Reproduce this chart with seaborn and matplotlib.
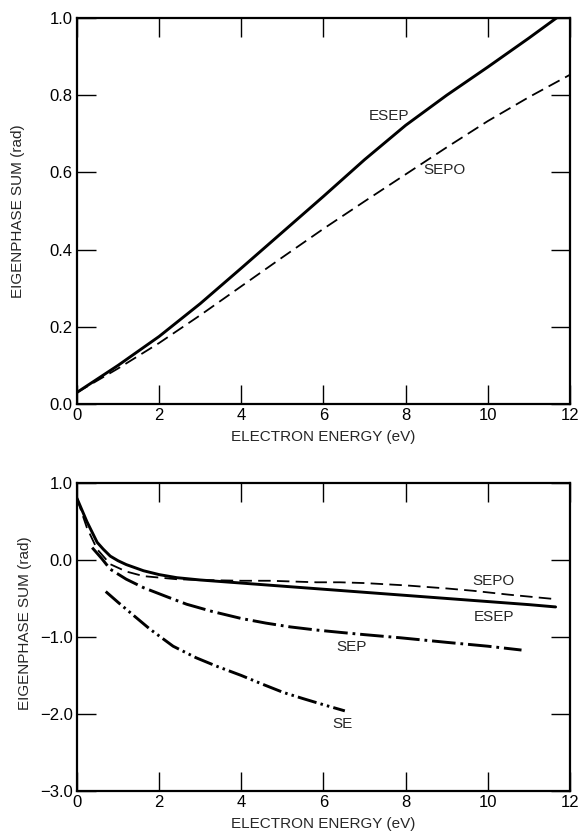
import matplotlib
matplotlib.use("Agg")
import matplotlib.pyplot as plt
import seaborn as sns
import pandas as pd

sns.set_style("ticks")
plt.rcParams["font.family"] = ["Liberation Sans", "DejaVu Sans"]
plt.rcParams["lines.scale_dashes"] = False

# ---- upper panel: eigenphase sums rising with energy ----
top_esep_e = [0, 1, 2, 3, 4, 5, 6, 7, 8, 9, 10, 11, 11.67]
top_esep_v = [0.03, 0.10, 0.175, 0.26, 0.352, 0.445, 0.538, 0.633, 0.722, 0.80, 0.873, 0.948, 1.0]
top_sepo_e = [0, 1, 2, 3, 4, 5, 6, 7, 8, 9, 10, 11, 12]
top_sepo_v = [0.03, 0.092, 0.158, 0.23, 0.305, 0.38, 0.454, 0.525, 0.595, 0.665, 0.733, 0.795, 0.853]

# ---- lower panel: eigenphase sums falling with energy ----
bot_esep_e = [0, 0.24, 0.49, 0.64, 0.81, 1.0, 1.2, 1.62, 2.0, 2.43, 3, 4, 5, 6, 7, 8, 9, 10,
              11, 11.65]
bot_esep_v = [0.80, 0.50, 0.23, 0.14, 0.05, -0.01, -0.06, -0.14, -0.19, -0.23, -0.26, -0.30,
              -0.34, -0.38, -0.42, -0.46, -0.50, -0.54, -0.58, -0.61]
bot_sepo_e = [0, 0.24, 0.49, 0.81, 1.2, 1.62, 2.43, 3, 4, 4.7, 5.83, 6.4, 7, 8, 9, 9.64,
              10.5, 11.67]
bot_sepo_v = [0.80, 0.42, 0.14, -0.055, -0.15, -0.21, -0.25, -0.26, -0.27, -0.27, -0.29, -0.29,
              -0.30, -0.33, -0.37, -0.40, -0.45, -0.51]
bot_sep_e = [0.37, 0.6, 0.81, 1.2, 1.62, 2.2, 2.67, 3.3, 4.0, 4.6, 5.2, 5.83, 6.4, 7.0, 7.86,
             9.0, 10.0, 10.82]
bot_sep_v = [0.16, 0.02, -0.12, -0.25, -0.36, -0.48, -0.575, -0.67, -0.76, -0.82, -0.87, -0.91,
             -0.94, -0.97, -1.01, -1.07, -1.12, -1.17]
bot_se_e = [0.7, 1.0, 1.4, 1.78, 2.34, 2.9, 3.4, 4.0, 4.5, 5.02, 5.5, 6.0, 6.52]
bot_se_v = [-0.41, -0.55, -0.73, -0.90, -1.12, -1.27, -1.38, -1.50, -1.61, -1.72, -1.80,
            -1.88, -1.96]

x_ticks = [0, 2, 4, 6, 8, 10, 12]
top_y_ticks = [0.0, 0.2, 0.4, 0.6, 0.8, 1.0]
bot_y_ticks = [-3.0, -2.0, -1.0, 0.0, 1.0]

SOLID = dict(linestyle="-", linewidth=2.1)
DASHED = dict(linestyle=(0, (9, 4.5)), linewidth=1.3)
DASH_DOT = dict(linestyle=(0, (17, 3.5, 2, 3.5)), linewidth=2.1)
DASH_DOT_DOT = dict(linestyle=(0, (14, 3, 1.8, 3, 1.8, 3)), linewidth=2.1)

FS = 10.5
TICK_FS = 12

fig = plt.figure(figsize=(5.84, 8.34), dpi=100)
ax1 = fig.add_axes([0.1318, 0.5156, 0.8442, 0.4628])
ax2 = fig.add_axes([0.1318, 0.0516, 0.8442, 0.3693])


def draw(ax, e, v, style):
    df = pd.DataFrame({"E": e, "v": v})
    sns.lineplot(data=df, x="E", y="v", ax=ax, color="black", sort=False,
                 estimator=None, **style)


draw(ax1, top_esep_e, top_esep_v, SOLID)
draw(ax1, top_sepo_e, top_sepo_v, DASHED)

draw(ax2, bot_esep_e, bot_esep_v, SOLID)
draw(ax2, bot_sepo_e, bot_sepo_v, DASHED)
draw(ax2, bot_sep_e, bot_sep_v, DASH_DOT)
draw(ax2, bot_se_e, bot_se_v, DASH_DOT_DOT)

ax1.set_ylim(0, 1.0)
ax2.set_ylim(-3.0, 1.0)
ax1.set_yticks(top_y_ticks)
ax1.set_yticklabels([f"{t:.1f}" for t in top_y_ticks])
ax2.set_yticks(bot_y_ticks)
ax2.set_yticklabels([f"{t:.1f}".replace("-", "\u2212") for t in bot_y_ticks])

for ax in (ax1, ax2):
    ax.set_xlim(0, 12)
    ax.set_xticks(x_ticks)
    ax.set_xticklabels([str(t) for t in x_ticks])
    ax.tick_params(direction="in", length=14, width=1.0, top=True, right=True,
                   labelsize=TICK_FS, pad=3, colors="black")
    for sp in ax.spines.values():
        sp.set_visible(True)
        sp.set_linewidth(1.6)
        sp.set_color("black")
    ax.set_xlabel("ELECTRON ENERGY (eV)", fontsize=FS + 0.5, labelpad=5)
    ax.set_ylabel("EIGENPHASE SUM (rad)", fontsize=FS + 0.5)

ax1.yaxis.set_label_coords(-0.105, 0.5)
ax2.yaxis.set_label_coords(-0.091, 0.545)

ax1.text(7.6, 0.745, "ESEP", fontsize=FS + 0.5, ha="center", va="center")
ax1.text(8.95, 0.607, "SEPO", fontsize=FS + 0.5, ha="center", va="center")

ax2.text(10.15, -0.277, "SEPO", fontsize=FS + 0.5, ha="center", va="center")
ax2.text(10.15, -0.744, "ESEP", fontsize=FS + 0.5, ha="center", va="center")
ax2.text(6.69, -1.13, "SEP", fontsize=FS + 0.5, ha="center", va="center")
ax2.text(6.47, -2.13, "SE", fontsize=FS + 0.5, ha="center", va="center")

fig.savefig("out.png", dpi=100)
